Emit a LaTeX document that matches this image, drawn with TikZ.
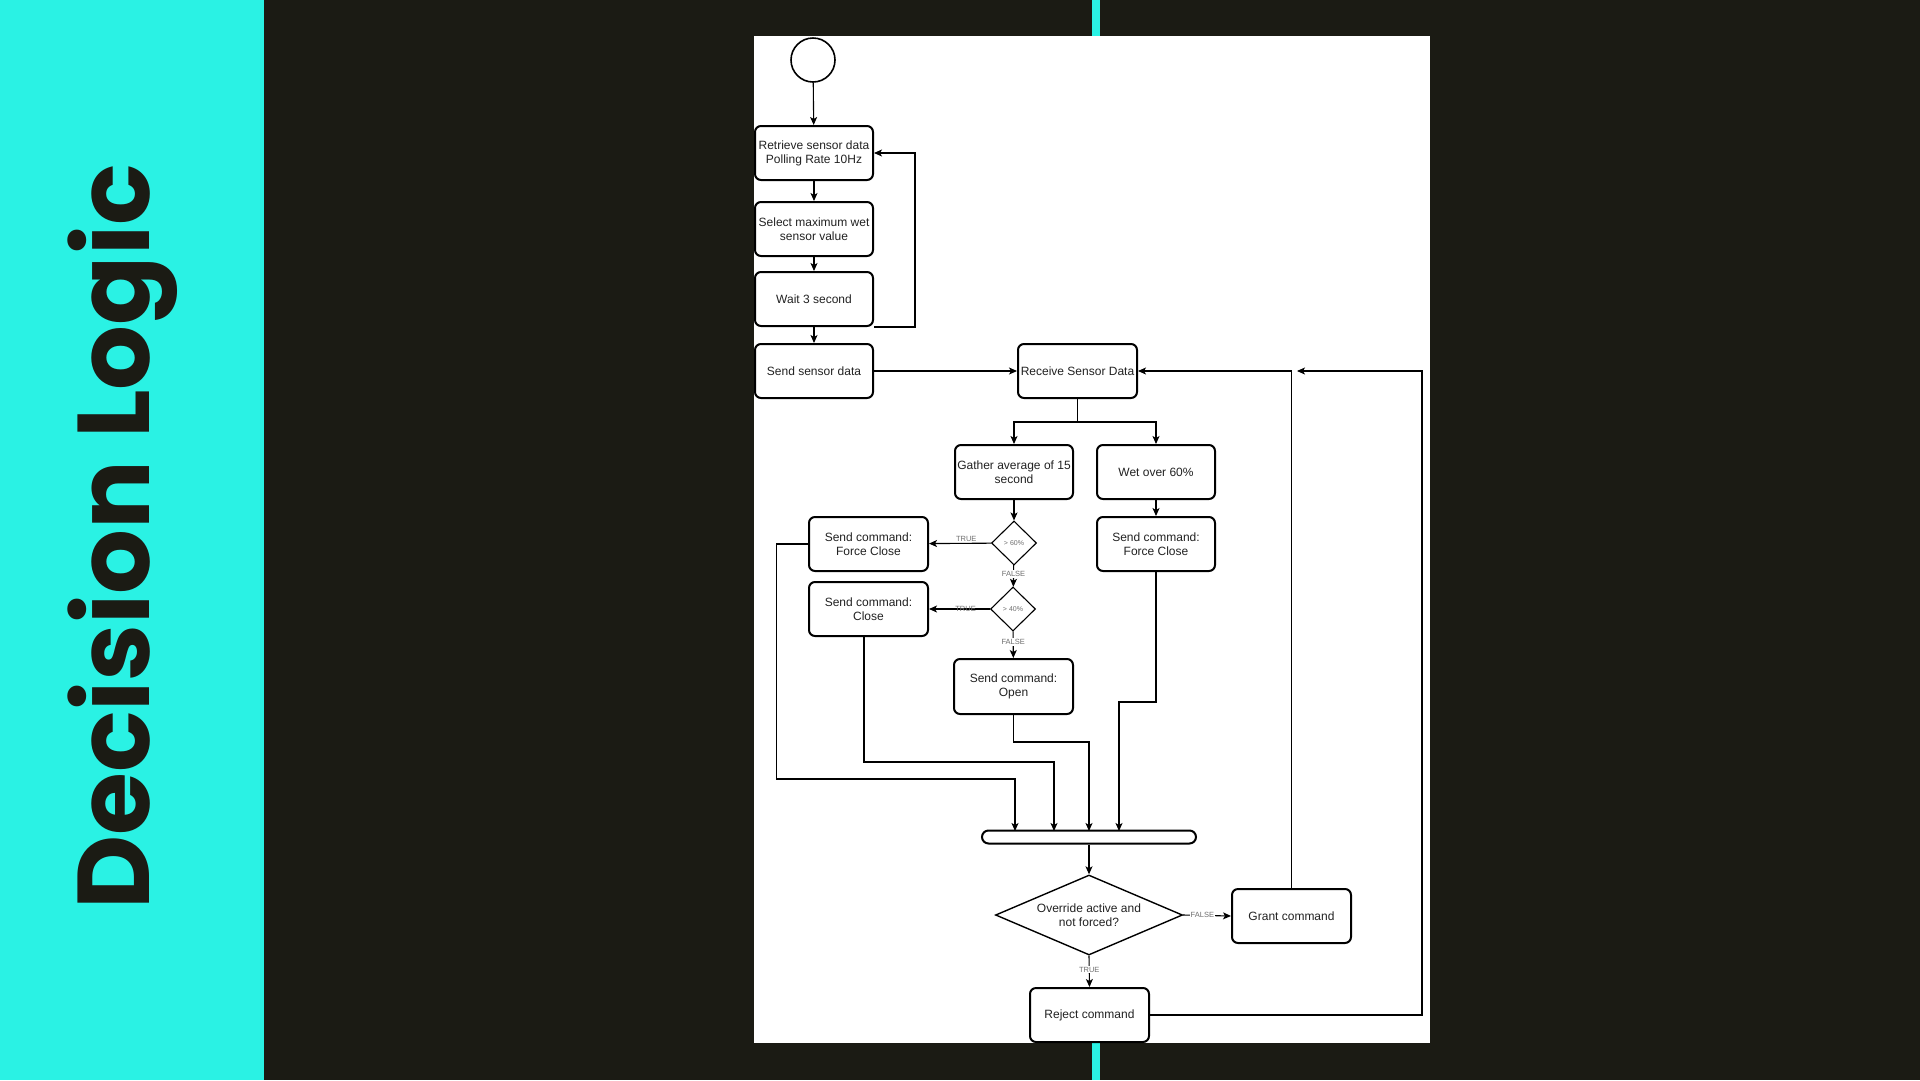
\documentclass[tikz,border=0pt]{standalone}
\usepackage{fontspec}
\setmainfont{Liberation Sans}
\newfontfamily\titlefont{Poppins}
\usetikzlibrary{shapes.geometric,arrows.meta}
\definecolor{cyanbg}{RGB}{42,242,228}
\definecolor{darkbg}{RGB}{27,27,20}
\definecolor{txt}{RGB}{34,34,34}
\definecolor{lbl}{RGB}{110,110,110}
\tikzset{
  box/.style={draw=black, line width=2pt, rounded corners=6pt, fill=white,
    minimum width=118pt, minimum height=54pt, inner sep=2pt, align=center,
    text=txt, font=\fontsize{12}{14}\selectfont},
  smalldia/.style={draw=black, line width=1.1pt, diamond, inner sep=0pt,
    minimum width=45pt, minimum height=44pt, fill=white, text=lbl,
    font=\fontsize{7}{8}\selectfont},
  bigdia/.style={draw=black, line width=1.4pt, diamond, aspect=2.34, inner sep=0pt,
    minimum width=187pt, minimum height=80pt, fill=white, align=center, text=txt,
    font=\fontsize{12}{14}\selectfont},
  conn/.style={draw=black, line width=1.1pt, -{Stealth[length=8pt,width=7pt,inset=2pt]}},
  elabel/.style={text=lbl, font=\fontsize{7.5}{8}\selectfont, inner sep=1pt},
}
\begin{document}
\begin{tikzpicture}[x=1pt,y=-1pt]
\useasboundingbox (0,0) rectangle (1920,1080);
% backgrounds
\fill[darkbg] (0,0) rectangle (1920,1080);
\fill[cyanbg] (0,0) rectangle (264,1080);
\fill[white] (754,36) rectangle (1430,1043);
\fill[cyanbg] (1092,0) rectangle (1100,36);
\fill[cyanbg] (1092,1043) rectangle (1100,1080);
% title
\node[rotate=90, anchor=base, text=darkbg, inner sep=0pt] (title) at (149,537)
  {\titlefont\bfseries\fontsize{102}{102}\selectfont Decision Logic};
% nodes
\node[circle, draw=black, line width=1.6pt, minimum size=44pt, inner sep=0pt, fill=white] (start) at (813,60) {};
\node[box] (retrieve) at (814,153) {Retrieve sensor data\\Polling Rate 10Hz};
\node[box] (select) at (814,229) {Select maximum wet\\sensor value};
\node[box] (wait) at (814,299) {Wait 3 second};
\node[box] (send) at (814,371) {Send sensor data};
\node[box, minimum width=119pt] (receive) at (1077.5,371) {Receive Sensor Data};
\node[box] (gather) at (1014,472) {Gather average of 15\\second};
\node[box] (wet) at (1156,472) {Wet over 60\%};
\node[smalldia] (d60) at (1014,543) {> 60\%};
\node[box, minimum width=119pt] (fc1) at (868.5,544) {Send command:\\Force Close};
\node[box] (fc2) at (1156,544) {Send command:\\Force Close};
\node[smalldia] (d40) at (1013,609) {> 40\%};
\node[box, minimum width=119pt] (close) at (868.5,609) {Send command:\\Close};
\node[box, minimum width=119pt, minimum height=55pt] (open) at (1013.5,686.5) {Send command:\\Open};
\node[draw=black, line width=2pt, rounded corners=6.5pt, minimum width=214pt, minimum height=13pt, inner sep=0pt, fill=white] (bar) at (1089,837) {};
\node[bigdia] (ovr) at (1089,915) {Override active and\\not forced?};
\node[box, minimum width=119pt] (grant) at (1291.5,916) {Grant command};
\node[box, minimum width=119pt] (reject) at (1089.5,1015) {Reject command};
% bar entry coordinates
\coordinate (b1) at (1015,831);
\coordinate (b2) at (1054,831);
\coordinate (b3) at (1089,831);
\coordinate (b4) at (1119,831);
\coordinate (j) at (1297,371);
% connectors
\draw[conn] (start) -- (retrieve);
\draw[conn] (retrieve) -- (select);
\draw[conn] (select) -- (wait);
\draw[conn] (wait) -- (send);
\draw[conn] (wait.south east) -- ++(41,0) |- (retrieve.east);
\draw[conn] (send) -- (receive);
\draw[conn] (receive.south) -- ++(0,23) -| (gather.north);
\draw[conn] (receive.south) -- ++(0,23) -| (wet.north);
\draw[conn] (gather) -- (d60);
\draw[conn] (d60) -- node[elabel, pos=0.4, above=0pt] {TRUE} (fc1);
\draw[conn] (d60) -- node[elabel, fill=white, pos=0.4] {FALSE} (d40);
\draw[conn] (d40) -- node[elabel, pos=0.4] {TRUE} (close);
\draw[conn] (d40) -- node[elabel, fill=white, pos=0.4] {FALSE} (open);
\draw[conn] (wet) -- (fc2);
\draw[conn] (fc1.west) -| ++(-31.5,235) -| (b1);
\draw[conn] ([xshift=-4.5pt]close.south) -- ++(0,125) -| (b2);
\draw[conn] (open.south) -- ++(0,27) -| (b3);
\draw[conn] (fc2.south) -- ++(0,130) -| (b4);
\draw[conn] (bar) -- (ovr);
\draw[conn] (ovr.east) -- node[elabel, fill=white, pos=0.4] {FALSE} (grant.west);
\draw[conn] (ovr.south) -- node[elabel, fill=white, pos=0.45] {TRUE} (reject.north);
\draw[conn] (grant.north) |- (receive.east);
\draw[conn] (reject.east) -- ++(272,0) |- (j);
\end{tikzpicture}
\end{document}
